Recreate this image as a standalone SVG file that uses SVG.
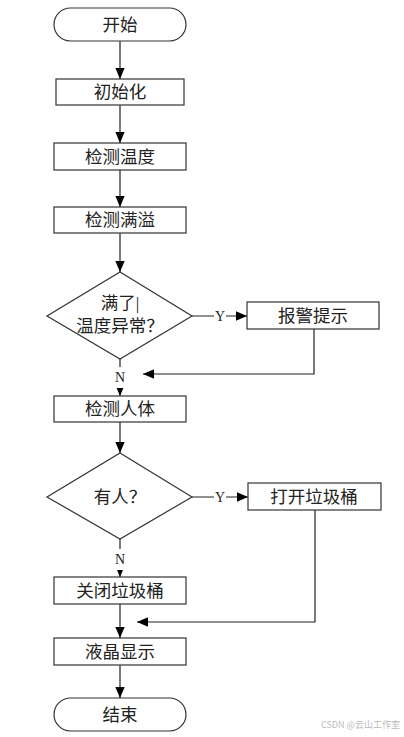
<svg xmlns="http://www.w3.org/2000/svg" width="404" height="737" viewBox="0 0 404 737">
<style>
.box{fill:#fff;stroke:#333;stroke-width:1.2}
.t{font-family:"Liberation Serif","Noto Sans CJK SC",serif;font-size:17.5px;fill:#222;text-anchor:middle;dominant-baseline:central}
.l{font-family:"Liberation Serif","Noto Sans CJK SC",serif;font-size:14px;fill:#222;text-anchor:middle;dominant-baseline:central}
.c{fill:none;stroke:#222;stroke-width:1.2}
.bg{fill:#fff}
</style>
<defs>
<marker id="ah" markerWidth="11" markerHeight="14" refX="13" refY="5.5" viewBox="0 0 13 11" markerUnits="userSpaceOnUse" orient="auto">
<path d="M0,0 L13,5.5 L0,11 Z" fill="#000"/>
</marker>
</defs>
<rect width="404" height="737" fill="#fff"/>
<g id="connectors">
<line class="c" x1="120" y1="41" x2="120" y2="79" marker-end="url(#ah)"/>
<line class="c" x1="120" y1="105" x2="120" y2="143" marker-end="url(#ah)"/>
<line class="c" x1="120" y1="170" x2="120" y2="207" marker-end="url(#ah)"/>
<line class="c" x1="120" y1="233" x2="120" y2="272" marker-end="url(#ah)"/>
<line class="c" x1="192" y1="316" x2="247" y2="316" marker-end="url(#ah)"/>
<polyline class="c" points="314,329 314,374 143,374" marker-end="url(#ah)"/>
<line class="c" x1="120" y1="359" x2="120" y2="396" marker-end="url(#ah)"/>
<line class="c" x1="120" y1="422" x2="120" y2="453" marker-end="url(#ah)"/>
<line class="c" x1="192" y1="497" x2="248" y2="497" marker-end="url(#ah)"/>
<line class="c" x1="120" y1="539" x2="120" y2="577" marker-end="url(#ah)"/>
<polyline class="c" points="315,510 315,622 137,622" marker-end="url(#ah)"/>
<line class="c" x1="120" y1="604" x2="120" y2="638" marker-end="url(#ah)"/>
<line class="c" x1="120" y1="665" x2="120" y2="698" marker-end="url(#ah)"/>
<rect class="bg" x="214" y="309" width="12" height="14"/>
<text class="l" x="220" y="316">Y</text>
<rect class="bg" x="113" y="367" width="14" height="21"/>
<text class="l" x="120" y="377">N</text>
<rect class="bg" x="214" y="490" width="12" height="14"/>
<text class="l" x="220" y="497">Y</text>
<rect class="bg" x="113" y="549" width="14" height="21"/>
<text class="l" x="120" y="559">N</text>
</g>
<g id="start"><rect class="box" x="54" y="8" width="132" height="33" rx="16.5"/><text class="t" x="120" y="25">开始</text></g>
<g id="init"><rect class="box" x="56" y="79" width="128" height="26"/><text class="t" x="120" y="92">初始化</text></g>
<g id="temp"><rect class="box" x="54" y="143" width="132" height="27"/><text class="t" x="120" y="156.5">检测温度</text></g>
<g id="full"><rect class="box" x="54" y="207" width="132" height="26"/><text class="t" x="120" y="220">检测满溢</text></g>
<g id="d1"><polygon class="box" points="120,272 192,316 120,359 47,316"/><text class="t" x="120" y="303">满了|</text><text class="t" x="120" y="326">温度异常？</text></g>
<g id="alarm"><rect class="box" x="247" y="302" width="132" height="27"/><text class="t" x="313" y="315.5">报警提示</text></g>
<g id="body"><rect class="box" x="54" y="396" width="132" height="26"/><text class="t" x="120" y="409">检测人体</text></g>
<g id="d2"><polygon class="box" points="120,453 192,497 120,539 47,497"/><text class="t" x="120" y="497">有人？</text></g>
<g id="open"><rect class="box" x="248" y="483" width="133" height="27"/><text class="t" x="314" y="496.5">打开垃圾桶</text></g>
<g id="close"><rect class="box" x="54" y="577" width="132" height="27"/><text class="t" x="120" y="590.5">关闭垃圾桶</text></g>
<g id="lcd"><rect class="box" x="54" y="638" width="132" height="27"/><text class="t" x="120" y="651.5">液晶显示</text></g>
<g id="end"><rect class="box" x="54" y="698" width="132" height="33" rx="16.5"/><text class="t" x="120" y="715">结束</text></g>
<text x="400" y="728" font-family="'Noto Sans CJK SC',sans-serif" font-size="9" fill="#bbb" text-anchor="end">CSDN @云山工作室</text>
</svg>
